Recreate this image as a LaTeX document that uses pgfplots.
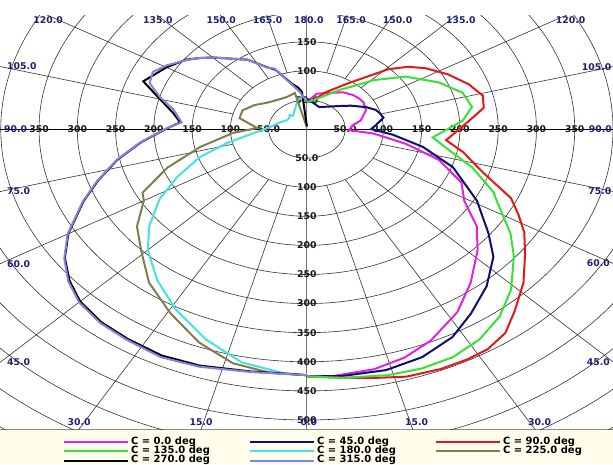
\documentclass[border=0pt]{standalone}
\usepackage{fontspec}
\setmainfont{DejaVu Sans}
\usepackage{pgfplots}
\usepackage{pgfplotstable}
\pgfplotsset{compat=1.18}

\definecolor{cA}{RGB}{225,35,225}
\definecolor{cB}{RGB}{15,15,110}
\definecolor{cC}{RGB}{225,25,25}
\definecolor{cD}{RGB}{55,225,55}
\definecolor{cE}{RGB}{70,225,225}
\definecolor{cF}{RGB}{130,125,75}
\definecolor{cG}{RGB}{0,0,0}
\definecolor{cH}{RGB}{130,130,225}
\definecolor{angc}{RGB}{30,30,120}
\definecolor{legbg}{RGB}{255,254,236}
\tikzset{
  gridc/.style={black!80, line width=0.6pt},
  rl/.style={inner sep=0pt, text=black!90, font=\bfseries\fontsize{9.3}{10}\selectfont},
  al/.style={inner sep=0pt, text=angc, font=\bfseries\fontsize{9.3}{10}\selectfont},
}

% C = 0 deg
\pgfplotstableread{
g I
0 425
4.5 426
12 422
18 413
24 398
32 371
39 340
47 305
53 278
59 240
65.5 222
73 180
79 131
85 87
88 55
96 60
102 72
113 84
122 87
128 86
134 84
143 79
158 67
168 62
175 52
180 48
}\tabA
% C = 45 deg
\pgfplotstableread{
g I
0 425
6 427
14 427
21 420
28 405
34 383
41 358
48 328
53 297
61 254
71 202
78.5 155
85 113
90 84
94 90
101 102
106 99
110 96
116 86
125 70
133 58
145 47
157 41
170 46
180 52
}\tabB
% C = 90 deg
\pgfplotstableread{
g I
0 425
3 427
11 436
17 445
23 448
28 448
32 446
36.5 436
41 414
47 387
53 357
58 335
62 313
66 292
72 242
79 208
84 183
95 217
99 234
104 237
110 225
117 207
124 187
129 170
134 148
145 97
158 69
171 50
180 46
}\tabC
% C = 135 deg
\pgfplotstableread{
g I
0 425
6 430
14 436
20 438
26 436
32 426
38 409
44 384
51 348
56 321
64 275
66 267
73 226
79 189
85 165
94 204
100 219
107 213
115 190
125 157
134 121
139 100
148 79
156 64
171 50
180 46
}\tabD
% C = 180 deg
\pgfplotstableread{
g I
0 423
4 421
12 410
20 385
29 354
37 325
45 294
51 265
58 227
64 189
71 148
77 107
84 71
94 48
105 39
121 30
130 30
137 33
142 29
150 34
154 36
160 42
164 47
167 51
173 54
180 50
}\tabE
% C = 225 deg
\pgfplotstableread{
g I
0 423
7 421
13.5 414
21 393
29.5 363
38 335
46 301
53 278
60 246
63 241
70 194
77.5 143
86 97
91.5 65
102 90
111 90
121 80
131 69
143 63
155 61
165.8 64
180 3
}\tabF
% C = 270 deg
\pgfplotstableread{
g I
0 423
10 423
19 430
26 433
33 430
39 427
45 419
50 405
55 386
60 360
67 317
72 287
78 253
84 218
90.5 182
94 166
99 177
106 203
111 229
120 212
127 198
131 186
135 174
147 142
154 118
158 110
166 80
171 72
174.2 64
180 5
}\tabG
% C = 315 deg
\pgfplotstableread{
g I
0 423
10 424
19 432
26 436
33 432
39 429
45 421
50 407
55 387
60 361
67 318
72 288
78 254
84 219
90.5 183
94 164
101 178
106 200
111 220
116 224
121 213
127 197
131 186
135 174
147 142
154 117
158 112
163 87
166 78
172 64
175 55
180 50
}\tabH

\begin{document}
\begin{tikzpicture}
\useasboundingbox (0pt,-35pt) rectangle (613pt,429pt);
\fill[legbg] (0pt,-35pt) rectangle (613pt,0pt);
\draw[black!45, line width=0.8pt] (0pt,-0.4pt) -- (613pt,-0.4pt);
\begin{axis}[
  at={(0pt,0pt)}, anchor=south west,
  scale only axis, width=613pt, height=414pt,
  xmin=-401, xmax=400, ymin=-515.5, ymax=196,
  axis lines=none, clip=true,
  legend columns=3,
  legend cell align=left,
  legend image code/.code={\draw[#1, line width=2pt] (0pt,0pt) -- (64pt,0pt);},
  legend style={at={(axis description cs:0.1028,-0.0205)}, anchor=north west,
    draw=none, fill=none, inner sep=0pt, outer sep=0pt,
    row sep=0pt, column sep=0pt,
    nodes={inner sep=0pt, outer sep=0pt, text height=6.8pt, text depth=2.5pt,
      font=\bfseries\fontsize{10}{10}\selectfont}},
]
% grid
\pgfplotsinvokeforeach{50,100,...,650}{\draw[gridc] (axis cs:0,0) ellipse [x radius=#1, y radius=#1];}
\pgfplotsinvokeforeach{15,30,45,60,75,105,120,135,150,165,195,210,225,240,255,285,300,315,330,345}{\draw[gridc] (axis cs:{100*sin(#1)},{-100*cos(#1)}) -- (axis cs:{900*sin(#1)},{-900*cos(#1)});}
\draw[black, line width=0.8pt] (axis cs:-401,0) -- (axis cs:400,0);
\draw[black!55, line width=0.9pt] (axis cs:0,196) -- (axis cs:0,-515.5);
% radial labels
\node[rl] at (axis cs:50,0) {50.0};
\node[rl] at (axis cs:100,0) {100};
\node[rl] at (axis cs:150,0) {150};
\node[rl] at (axis cs:200,0) {200};
\node[rl] at (axis cs:250,0) {250};
\node[rl] at (axis cs:300,0) {300};
\node[rl] at (axis cs:350,0) {350};
\node[rl] at (axis cs:-50,0) {50.0};
\node[rl] at (axis cs:-100,0) {100};
\node[rl] at (axis cs:-150,0) {150};
\node[rl] at (axis cs:-200,0) {200};
\node[rl] at (axis cs:-250,0) {250};
\node[rl] at (axis cs:-300,0) {300};
\node[rl] at (axis cs:-350,0) {350};
\node[rl] at (axis cs:0,-50) {50.0};
\node[rl] at (axis cs:0,-100) {100};
\node[rl] at (axis cs:0,-150) {150};
\node[rl] at (axis cs:0,-200) {200};
\node[rl] at (axis cs:0,-250) {250};
\node[rl] at (axis cs:0,-300) {300};
\node[rl] at (axis cs:0,-350) {350};
\node[rl] at (axis cs:0,-400) {400};
\node[rl] at (axis cs:0,-450) {450};
\node[rl] at (axis cs:0,-500) {500};
\node[rl] at (axis cs:0,50) {50.0};
\node[rl] at (axis cs:0,100) {100};
\node[rl] at (axis cs:0,150) {150};
% angle labels: top
\node[al, anchor=north, yshift=-1.5pt, xshift=2pt] at (axis cs:0,196) {180.0};
\node[al, anchor=north, yshift=-1.5pt, xshift=1pt] at (axis cs:-52.5,196) {165.0};
\node[al, anchor=north, yshift=-1.5pt, xshift=1pt] at (axis cs:-113.2,196) {150.0};
\node[al, anchor=north, yshift=-1.5pt, xshift=1pt] at (axis cs:-196,196) {135.0};
\node[al, anchor=north, yshift=-1.5pt, xshift=1pt] at (axis cs:-339.5,196) {120.0};
\node[al, anchor=north, yshift=-1.5pt, xshift=4pt] at (axis cs:52.5,196) {165.0};
\node[al, anchor=north, yshift=-1.5pt, xshift=4pt] at (axis cs:113.2,196) {150.0};
\node[al, anchor=north, yshift=-1.5pt, xshift=4pt] at (axis cs:196,196) {135.0};
\node[al, anchor=north, yshift=-1.5pt, xshift=4pt] at (axis cs:339.5,196) {120.0};
% left edge
\node[al, anchor=west, xshift=7pt] at (axis cs:-401,107.4) {105.0};
\node[al, anchor=west, xshift=4pt] at (axis cs:-401,0) {90.0};
\node[al, anchor=west, xshift=7pt] at (axis cs:-401,-107.4) {75.0};
\node[al, anchor=west, xshift=7pt] at (axis cs:-401,-231.5) {60.0};
\node[al, anchor=west, xshift=7pt] at (axis cs:-401,-401) {45.0};
% right edge
\node[al, anchor=east, xshift=-1.5pt] at (axis cs:400,107.2) {105.0};
\node[al, anchor=east, xshift=-1pt] at (axis cs:400,0) {90.0};
\node[al, anchor=east, xshift=-1.5pt] at (axis cs:400,-107.2) {75.0};
\node[al, anchor=east, xshift=-3pt] at (axis cs:400,-230.9) {60.0};
\node[al, anchor=east, xshift=-3pt] at (axis cs:400,-400) {45.0};
% bottom
\node[al, anchor=south, yshift=3pt] at (axis cs:-297.6,-515.5) {30.0};
\node[al, anchor=south, yshift=3pt] at (axis cs:-138.1,-515.5) {15.0};
\node[al, anchor=south, yshift=3pt, xshift=2pt] at (axis cs:0,-515.5) {0.0};
\node[al, anchor=south, yshift=3pt, xshift=4pt] at (axis cs:138.1,-515.5) {15.0};
\node[al, anchor=south, yshift=3pt, xshift=5pt] at (axis cs:297.6,-515.5) {30.0};
% curves
\addplot[cA, line width=2pt] table[x expr={\thisrow{I}*sin(\thisrow{g})}, y expr={-\thisrow{I}*cos(\thisrow{g})}] {\tabA};
\addlegendentry{\makebox[120pt][l]{\hspace{2pt}C = 0.0 deg}}
\addplot[cB, line width=2pt] table[x expr={\thisrow{I}*sin(\thisrow{g})}, y expr={-\thisrow{I}*cos(\thisrow{g})}] {\tabB};
\addlegendentry{\makebox[120pt][l]{\hspace{2pt}C = 45.0 deg}}
\addplot[cC, line width=2pt] table[x expr={\thisrow{I}*sin(\thisrow{g})}, y expr={-\thisrow{I}*cos(\thisrow{g})}] {\tabC};
\addlegendentry{\makebox[120pt][l]{\hspace{2pt}C = 90.0 deg}}
\addplot[cD, line width=2pt] table[x expr={\thisrow{I}*sin(\thisrow{g})}, y expr={-\thisrow{I}*cos(\thisrow{g})}] {\tabD};
\addlegendentry{\makebox[120pt][l]{\hspace{2pt}C = 135.0 deg}}
\addplot[cE, line width=2pt] table[x expr={-\thisrow{I}*sin(\thisrow{g})}, y expr={-\thisrow{I}*cos(\thisrow{g})}] {\tabE};
\addlegendentry{\makebox[120pt][l]{\hspace{2pt}C = 180.0 deg}}
\addplot[cF, line width=2pt] table[x expr={-\thisrow{I}*sin(\thisrow{g})}, y expr={-\thisrow{I}*cos(\thisrow{g})}] {\tabF};
\addlegendentry{\makebox[120pt][l]{\hspace{2pt}C = 225.0 deg}}
\addplot[cG, line width=2pt] table[x expr={-\thisrow{I}*sin(\thisrow{g})}, y expr={-\thisrow{I}*cos(\thisrow{g})}] {\tabG};
\addlegendentry{\makebox[120pt][l]{\hspace{2pt}C = 270.0 deg}}
\addplot[cH, line width=2pt] table[x expr={-\thisrow{I}*sin(\thisrow{g})}, y expr={-\thisrow{I}*cos(\thisrow{g})}] {\tabH};
\addlegendentry{\makebox[120pt][l]{\hspace{2pt}C = 315.0 deg}}
\end{axis}
\end{tikzpicture}
\end{document}
